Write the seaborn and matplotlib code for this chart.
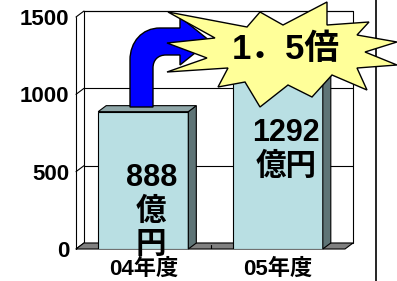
import numpy as np
import pandas as pd
import seaborn as sns
import matplotlib.pyplot as plt
from matplotlib.patches import Polygon, Rectangle, PathPatch
from matplotlib.path import Path
from matplotlib.transforms import Affine2D
from matplotlib.lines import Line2D

# data
years = ["04年度", "05年度"]
amounts = [888, 1292]
bar_labels = ["888\n億\n円", "1292\n億円"]
yticks = [0, 500, 1000, 1500]
ratio_label = "1．5倍"

# where the labels sit inside the bars (data units)
label_y = [240, 640]

sns.set_style("white")
plt.rcParams["font.family"] = ["Liberation Sans", "Noto Sans CJK JP"]
plt.rcParams["font.weight"] = "bold"
plt.rcParams["text.color"] = "black"
plt.rcParams["xtick.color"] = "black"
plt.rcParams["ytick.color"] = "black"

W, H = 397, 281
fig = plt.figure(figsize=(W / 100, H / 100), dpi=100)
ax = fig.add_axes([76 / W, 1 - 249 / H, (345 - 76) / W, (249 - 17) / H])

df = pd.DataFrame({"year": years, "amount": amounts})
sns.barplot(data=df, x="year", y="amount", color="#b9dfe3", saturation=1,
            width=0.67, edgecolor="black", linewidth=0.8, zorder=3, ax=ax)
bars = list(ax.patches)

ax.set_xlim(-0.5, 1.5)
ax.set_ylim(0, 1500)

# 3d depth, 8px right and 6px up
dx = 8 * 2 / 269
dy = 6 * 1500 / 232

# back wall + grid
ax.add_patch(Rectangle((-0.5 + dx, dy), 2, 1500, fc="white", ec="black",
                       lw=0.8, zorder=0.5, clip_on=False))
for t in yticks[1:]:
    ax.plot([-0.5 + dx, 1.5 + dx], [t + dy, t + dy], color="black", lw=0.8,
            zorder=0.6, clip_on=False)
for t in yticks:
    ax.plot([-0.5, -0.5 + dx], [t, t + dy], color="black", lw=0.8,
            zorder=0.6, clip_on=False)
ax.plot([-0.5, -0.5], [0, 1500], color="black", lw=0.8, zorder=0.6, clip_on=False)

# floor
ax.add_patch(Polygon([(-0.5, 0), (1.5, 0), (1.5 + dx, dy), (-0.5 + dx, dy)],
                     closed=True, fc="#808080", ec="black", lw=0.8,
                     zorder=1, clip_on=False))
ax.plot([0.5, 0.5], [0, dy * 0.6], color="black", lw=0.8, zorder=1.1)

# side and top of each bar
for b in bars:
    x0 = b.get_x()
    x1 = x0 + b.get_width()
    h = b.get_height()
    ax.add_patch(Polygon([(x1, 0), (x1 + dx, dy), (x1 + dx, h + dy), (x1, h)],
                         closed=True, fc="#5e7476", ec="black", lw=0.8,
                         zorder=3, clip_on=False))
    ax.add_patch(Polygon([(x0, h), (x0 + dx, h + dy), (x1 + dx, h + dy), (x1, h)],
                         closed=True, fc="#8fa7a9", ec="black", lw=0.8,
                         zorder=3, clip_on=False))

for b, txt, ly in zip(bars, bar_labels, label_y):
    ax.text(b.get_x() + b.get_width() / 2 + dx, ly, txt, ha="center",
            va="center", fontsize=22, fontweight="bold", linespacing=1.15,
            color="black", zorder=4)

for s in ax.spines.values():
    s.set_visible(False)
ax.set_yticks(yticks)
ax.set_xlabel("")
ax.set_ylabel("")
ax.tick_params(axis="y", length=0, pad=5, labelsize=16, labelcolor="black")
ax.tick_params(axis="x", length=0, pad=7, labelsize=16, labelcolor="black")
for lab in ax.get_xticklabels() + ax.get_yticklabels():
    lab.set_fontweight("bold")

# pixel coords -> display
T = Affine2D().scale(1 / 100, -1 / 100).translate(0, H / 100) + fig.dpi_scale_trans

# bent arrow
C, M, L = Path.CURVE4, Path.MOVETO, Path.LINETO
arrow_v = [(130, 107), (130, 60), (130, 42), (142, 28), (160, 28), (180, 28),
           (180, 17), (210, 41), (180, 65), (180, 55), (166, 55), (158, 55),
           (153, 60), (153, 68), (153, 107), (130, 107)]
arrow_c = [M, L, C, C, C, L, L, L, L, L, L, C, C, C, L, Path.CLOSEPOLY]
fig.patches.append(PathPatch(Path(arrow_v, arrow_c), fc="#0000ff", ec="black",
                             lw=1.0, transform=T, figure=fig, zorder=5))

# starburst
star = [(168, 12), (215, 38), (167, 43), (207, 58), (167, 72), (228, 68),
        (218, 87), (245, 82), (260, 107), (288, 85), (312, 97), (332, 75),
        (367, 90), (357, 68), (397, 65), (365, 52), (397, 42), (357, 35),
        (369, 22), (327, 25), (327, 2), (283, 25), (260, 12), (247, 27)]
fig.patches.append(Polygon(star, closed=True, fc="#ffff99", ec="black", lw=1.0,
                           transform=T, figure=fig, zorder=6))
fig.text(286 / W, 1 - 50 / H, ratio_label, ha="center", va="center",
         fontsize=25, fontweight="bold", color="black", zorder=7)

# right border line
fig.lines.append(Line2D([376 / W, 376 / W], [0, 1], color="black", lw=1.2,
                        transform=fig.transFigure, figure=fig))

fig.savefig("out.png", dpi=100)
